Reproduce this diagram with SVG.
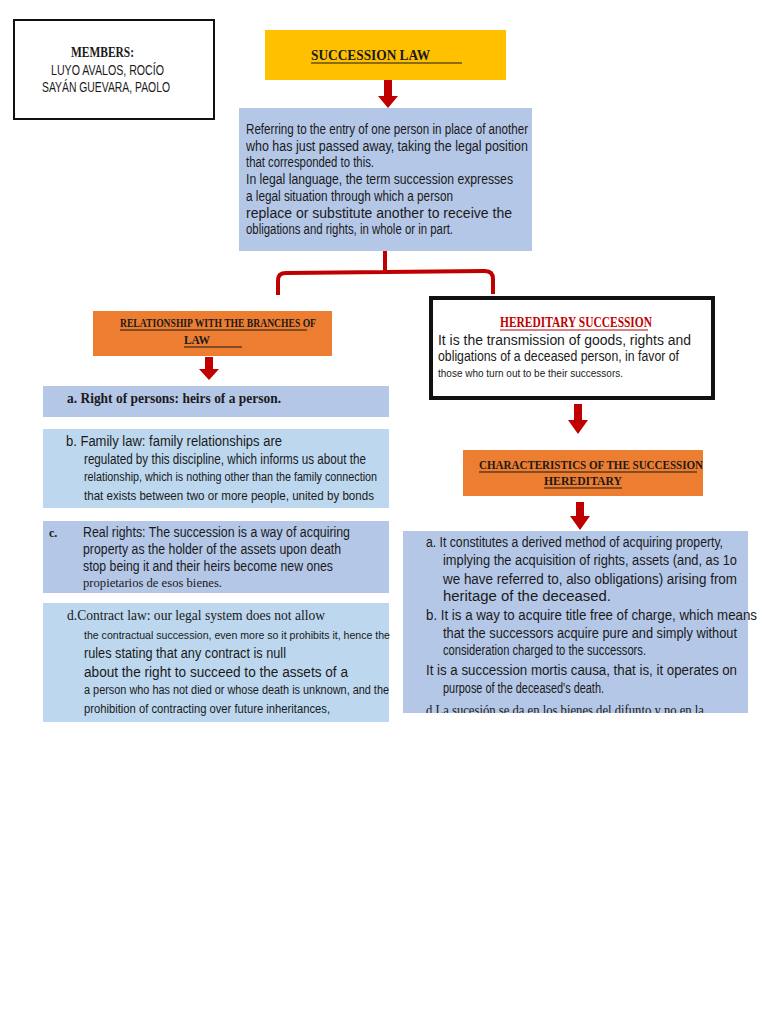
<svg xmlns="http://www.w3.org/2000/svg" width="768" height="1024" viewBox="0 0 768 1024">
<style>
.s{font-family:"Liberation Sans",Arial,sans-serif;fill:#1a1a1a}
.r{font-family:"Liberation Serif","Times New Roman",serif;fill:#1a1a1a}
.b{font-weight:bold}
.ar{fill:#C00000}
.ul{stroke:#1a1a1a;stroke-width:1.2}
.blue{fill:#B4C7E7}
.lblue{fill:#BDD7EE}
.org{fill:#ED7D31}
</style>
<defs>
<clipPath id="cr"><rect x="403" y="531" width="365" height="182"/></clipPath>
</defs>
<rect width="768" height="1024" fill="#fff"/>

<g id="members">
<rect x="14" y="20" width="200" height="99" fill="#fff" stroke="#111" stroke-width="2"/>
<text class="r b" x="71" y="57" font-size="14" textLength="63" lengthAdjust="spacingAndGlyphs">MEMBERS:</text>
<text class="s" x="51" y="75" font-size="14" textLength="113" lengthAdjust="spacingAndGlyphs">LUYO AVALOS, ROCÍO</text>
<text class="s" x="42" y="92" font-size="14" textLength="128" lengthAdjust="spacingAndGlyphs">SAYÁN GUEVARA, PAOLO</text>
</g>

<g id="succession-law">
<rect x="265" y="30" width="241" height="50" fill="#FFC000"/>
<text class="r b" x="311" y="60" font-size="15" textLength="119" lengthAdjust="spacingAndGlyphs">SUCCESSION LAW</text>
<line class="ul" x1="311" y1="63" x2="462" y2="63"/>
</g>

<g id="definition">
<rect class="blue" x="239" y="108" width="293" height="143"/>
<g class="s" font-size="14">
<text x="246" y="134" textLength="282" lengthAdjust="spacingAndGlyphs">Referring to the entry of one person in place of another</text>
<text x="246" y="151" textLength="282" lengthAdjust="spacingAndGlyphs">who has just passed away, taking the legal position</text>
<text x="246" y="167" textLength="128" lengthAdjust="spacingAndGlyphs">that corresponded to this.</text>
<text x="246" y="184" textLength="267" lengthAdjust="spacingAndGlyphs">In legal language, the term succession expresses</text>
<text x="246" y="201" textLength="207" lengthAdjust="spacingAndGlyphs">a legal situation through which a person</text>
<text x="246" y="218" textLength="266" lengthAdjust="spacingAndGlyphs">replace or substitute another to receive the</text>
<text x="246" y="234" textLength="207" lengthAdjust="spacingAndGlyphs">obligations and rights, in whole or in part.</text>
</g>
</g>

<g id="relationship">
<rect class="org" x="93" y="311" width="239" height="45"/>
<text class="r b" x="120" y="327" font-size="12" textLength="196" lengthAdjust="spacingAndGlyphs">RELATIONSHIP WITH THE BRANCHES OF</text>
<line class="ul" x1="120" y1="330" x2="307" y2="330"/>
<text class="r b" x="184" y="344" font-size="13" textLength="26" lengthAdjust="spacingAndGlyphs">LAW</text>
<line class="ul" x1="184" y1="347" x2="242" y2="347"/>
</g>

<g id="item-a">
<rect class="blue" x="43" y="386" width="346" height="31"/>
<text class="r b" x="67" y="403" font-size="14" textLength="214" lengthAdjust="spacingAndGlyphs">a. Right of persons: heirs of a person.</text>
</g>

<g id="item-b">
<rect class="lblue" x="43" y="429" width="346" height="79"/>
<g class="s">
<text x="66" y="446" font-size="14" textLength="216" lengthAdjust="spacingAndGlyphs">b. Family law: family relationships are</text>
<text x="84" y="464" font-size="14" textLength="282" lengthAdjust="spacingAndGlyphs">regulated by this discipline, which informs us about the</text>
<text x="84" y="481" font-size="12" textLength="293" lengthAdjust="spacingAndGlyphs">relationship, which is nothing other than the family connection</text>
<text x="84" y="500" font-size="13.5" textLength="290" lengthAdjust="spacingAndGlyphs">that exists between two or more people, united by bonds</text>
</g>
</g>

<g id="item-c">
<rect class="blue" x="43" y="521" width="346" height="72"/>
<text class="r b" x="49" y="537" font-size="12">c.</text>
<g class="s" font-size="14">
<text x="83" y="537" textLength="267" lengthAdjust="spacingAndGlyphs">Real rights: The succession is a way of acquiring</text>
<text x="83" y="554" textLength="258" lengthAdjust="spacingAndGlyphs">property as the holder of the assets upon death</text>
<text x="83" y="571" textLength="250" lengthAdjust="spacingAndGlyphs">stop being it and their heirs become new ones</text>
</g>
<text class="r" x="83" y="587" font-size="12" textLength="139" lengthAdjust="spacingAndGlyphs">propietarios de esos bienes.</text>
</g>

<g id="item-d">
<rect class="lblue" x="43" y="603" width="346" height="119"/>
<text class="r" x="67" y="620" font-size="14" textLength="258" lengthAdjust="spacingAndGlyphs">d.Contract law: our legal system does not allow</text>
<g class="s">
<text x="84" y="639" font-size="11" textLength="306" lengthAdjust="spacingAndGlyphs">the contractual succession, even more so it prohibits it, hence the</text>
<text x="84" y="658" font-size="14" textLength="202" lengthAdjust="spacingAndGlyphs">rules stating that any contract is null</text>
<text x="84" y="677" font-size="14" textLength="264" lengthAdjust="spacingAndGlyphs">about the right to succeed to the assets of a</text>
<text x="84" y="694" font-size="12" textLength="305" lengthAdjust="spacingAndGlyphs">a person who has not died or whose death is unknown, and the</text>
<text x="84" y="713" font-size="13.5" textLength="246" lengthAdjust="spacingAndGlyphs">prohibition of contracting over future inheritances,</text>
</g>
</g>

<g id="hereditary">
<rect x="431" y="298" width="282" height="100" fill="#fff" stroke="#111" stroke-width="4"/>
<text class="r b" x="500" y="327" font-size="14" style="fill:#C00000" textLength="152" lengthAdjust="spacingAndGlyphs">HEREDITARY SUCCESSION</text>
<line x1="500" y1="330" x2="648" y2="330" stroke="#C00000" stroke-width="1.2"/>
<g class="s">
<text x="438" y="345" font-size="14" textLength="253" lengthAdjust="spacingAndGlyphs">It is the transmission of goods, rights and</text>
<text x="438" y="361" font-size="14" textLength="241" lengthAdjust="spacingAndGlyphs">obligations of a deceased person, in favor of</text>
<text x="438" y="377" font-size="11" textLength="185" lengthAdjust="spacingAndGlyphs">those who turn out to be their successors.</text>
</g>
</g>

<g id="characteristics">
<rect class="org" x="463" y="450" width="240" height="46"/>
<text class="r b" x="479" y="469" font-size="13" textLength="224" lengthAdjust="spacingAndGlyphs">CHARACTERISTICS OF THE SUCCESSION</text>
<line class="ul" x1="479" y1="472" x2="697" y2="472"/>
<text class="r b" x="544" y="485" font-size="13" textLength="78" lengthAdjust="spacingAndGlyphs">HEREDITARY</text>
<line class="ul" x1="544" y1="488" x2="622" y2="488"/>
</g>

<g id="characteristics-list">
<rect class="blue" x="403" y="531" width="345" height="182"/>
<g class="s" font-size="14">
<text x="426" y="547" textLength="297" lengthAdjust="spacingAndGlyphs">a. It constitutes a derived method of acquiring property,</text>
<text x="443" y="565" textLength="294" lengthAdjust="spacingAndGlyphs">implying the acquisition of rights, assets (and, as 1o</text>
<text x="443" y="584" textLength="294" lengthAdjust="spacingAndGlyphs">we have referred to, also obligations) arising from</text>
<text x="443" y="601" textLength="168" lengthAdjust="spacingAndGlyphs">heritage of the deceased.</text>
<text x="426" y="620" textLength="331" lengthAdjust="spacingAndGlyphs">b. It is a way to acquire title free of charge, which means</text>
<text x="443" y="638" textLength="294" lengthAdjust="spacingAndGlyphs">that the successors acquire pure and simply without</text>
<text x="443" y="655" textLength="203" lengthAdjust="spacingAndGlyphs">consideration charged to the successors.</text>
<text x="426" y="675" textLength="311" lengthAdjust="spacingAndGlyphs">It is a succession mortis causa, that is, it operates on</text>
<text x="443" y="693" textLength="161" lengthAdjust="spacingAndGlyphs">purpose of the deceased's death.</text>
</g>
<text class="r" x="426" y="715" font-size="14" clip-path="url(#cr)" textLength="278" lengthAdjust="spacingAndGlyphs">d.La sucesión se da en los bienes del difunto y no en la</text>
</g>

<g id="connectors">
<path class="ar" d="M384 80 H392 V96 H398 L388 108 L378 96 H384 Z"/>
<path d="M385 251 V271 M278 295 V280 Q278 273 286 273 L485 271 Q493 271 493 279 V294" fill="none" stroke="#C00000" stroke-width="4"/>
<path class="ar" d="M205 357 H213 V369 H219 L209 380 L199 369 H205 Z"/>
<path class="ar" d="M574 404 H582 V420 H588 L578 434 L568 420 H574 Z"/>
<path class="ar" d="M576 502 H584 V516 H590 L580 530 L570 516 H576 Z"/>
</g>
</svg>
